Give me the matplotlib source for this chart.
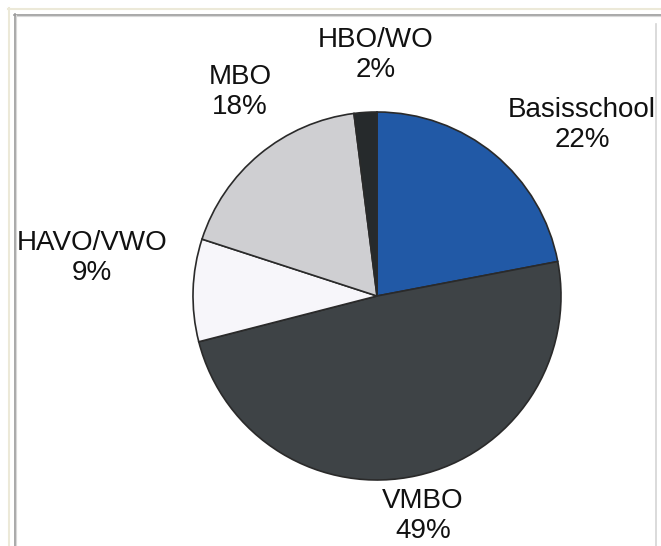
import matplotlib.pyplot as plt
from matplotlib.lines import Line2D

plt.rcParams['font.family'] = ['Liberation Sans', 'DejaVu Sans']

# data
categories = ['Basisschool', 'VMBO', 'HAVO/VWO', 'MBO', 'HBO/WO']
shares = [22, 49, 9, 18, 2]
colors = ['#2159a6', '#3e4346', '#f7f6fa', '#cfcfd2', '#262a2c']

# label centres in pixel coords (x, y from top)
label_pos = [(582, 125), (423, 516), (92, 258), (240, 92), (376, 55)]

W, H = 661, 546
fig = plt.figure(figsize=(W / 100, H / 100), dpi=100)
ax = fig.add_axes([0, 0, 1, 1])

ax.pie(shares, colors=colors, startangle=90, counterclock=False,
       center=(377, H - 296), radius=184, frame=True,
       wedgeprops=dict(edgecolor='#2a2a2a', linewidth=1.2))
ax.set_xlim(0, W)
ax.set_ylim(0, H)
ax.set_aspect('equal')
ax.axis('off')

for name, val, (x, y) in zip(categories, shares, label_pos):
    ax.text(x, H - y, f'{name}\n{val}%', ha='center', va='center',
            multialignment='center', fontsize=20, color='#111111',
            linespacing=1.2)

# window frame
def hline(y, x0, x1, c, lw=1):
    fig.add_artist(Line2D([x0 / W, x1 / W], [1 - y / H, 1 - y / H], color=c, lw=lw))

def vline(x, y0, y1, c, lw=1):
    fig.add_artist(Line2D([x / W, x / W], [1 - y0 / H, 1 - y1 / H], color=c, lw=lw))

hline(8.5, 8, W, '#ece9d8', 1.5)
vline(8.5, 8, H, '#ece9d8', 1.5)
hline(14.5, 14, W, '#9a9a9a', 1.2)
hline(16, 15, W, '#d8d8d8', 0.8)
vline(14.5, 14, H, '#9a9a9a', 1.2)
vline(16, 15, H, '#d8d8d8', 0.8)
vline(655.5, 24, H, '#d4d4d4', 1.2)

fig.savefig('out.png', dpi=100)
